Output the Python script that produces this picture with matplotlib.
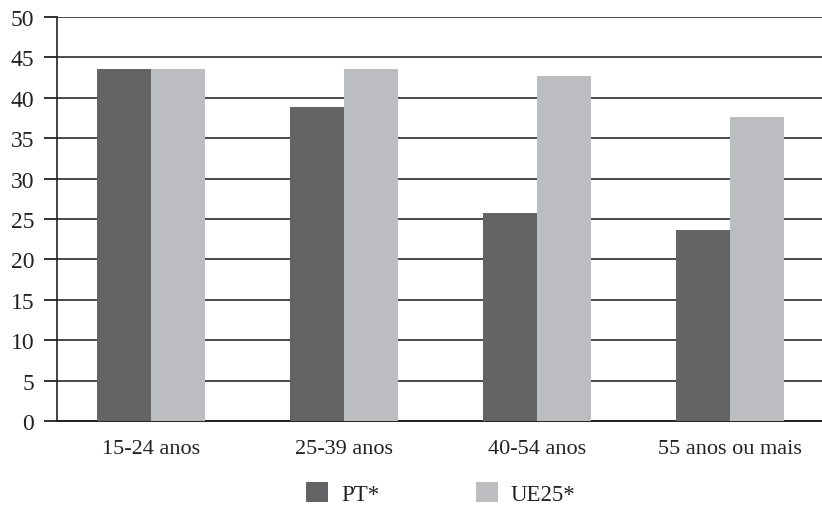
import numpy as np
import matplotlib
matplotlib.use('Agg')
import matplotlib.pyplot as plt

# data
categories = ['15-24 anos', '25-39 anos', '40-54 anos', '55 anos ou mais']
pt_values = [43.6, 38.8, 25.8, 23.7]
ue25_values = [43.6, 43.6, 42.7, 37.6]
series_labels = ['PT*', 'UE25*']
yticks = [0, 5, 10, 15, 20, 25, 30, 35, 40, 45, 50]

plt.rcParams['font.family'] = ['Liberation Serif', 'DejaVu Serif']

fig = plt.figure(figsize=(8.22, 5.06), dpi=100)
ax = fig.add_axes([57 / 822, (506 - 422) / 506, 1 - 57 / 822, (422 - 18) / 506])

x = np.arange(len(categories))
w = 0.28
ax.bar(x - w / 2, pt_values, width=w, color='#646466', label=series_labels[0], zorder=3)
ax.bar(x + w / 2, ue25_values, width=w, color='#bcbdc0', label=series_labels[1], zorder=3)

ax.set_xlim(-0.487, 3.477)
ax.set_ylim(0, 50)
ax.set_yticks(yticks)
ax.set_xticks(x)
ax.set_xticklabels(categories)

ax.grid(axis='y', color='#4a4a4a', linewidth=1.4, zorder=0)
ax.set_axisbelow(True)
for side in ['top', 'right']:
    ax.spines[side].set_visible(False)
ax.spines['left'].set_color('#222222')
ax.spines['bottom'].set_color('#222222')
ax.spines['left'].set_linewidth(1.2)
ax.spines['bottom'].set_linewidth(1.4)

ax.tick_params(axis='y', length=9.5, width=1.4, color='#333333', pad=7, labelsize=17, labelcolor='#222222')
ax.tick_params(axis='x', length=0, pad=13, labelsize=16, labelcolor='#222222')

fig.legend(loc='center', bbox_to_anchor=(0.5365, 0.022), ncol=2, frameon=False,
           fontsize=16.5, handlelength=0.96, handleheight=0.96, handletextpad=0.57,
           columnspacing=4.2, labelcolor='#222222')

fig.savefig('out.png', dpi=100)
